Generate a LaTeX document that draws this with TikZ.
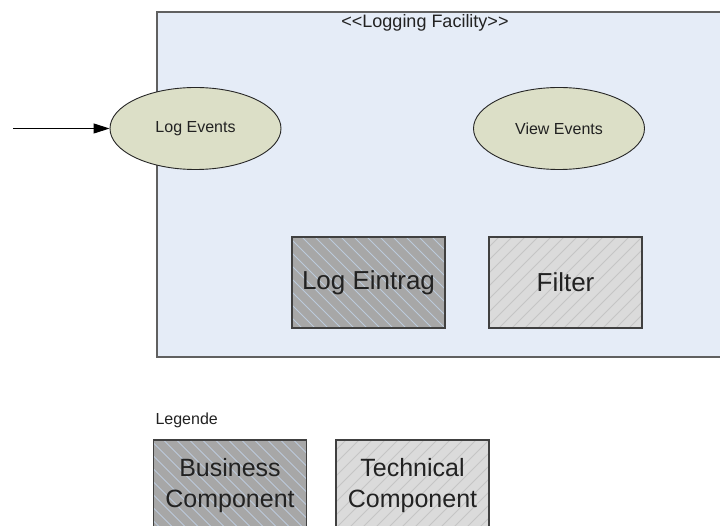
\documentclass[tikz,border=0pt]{standalone}
\usepackage{fontspec}
\setmainfont{Liberation Sans}
\usetikzlibrary{arrows.meta,shapes.geometric}

\definecolor{facilityfill}{HTML}{E5ECF7}
\definecolor{facilityline}{HTML}{606060}
\definecolor{usecasefill}{HTML}{DCDFC7}
\definecolor{bizfill}{HTML}{A7A7A7}
\definecolor{bizstripe}{HTML}{BCCADB}
\definecolor{techfill}{HTML}{DBDBDB}
\definecolor{techstripe}{HTML}{C5C5C5}
\definecolor{textdark}{HTML}{222222}

\tikzset{
  x=1pt, y=-1pt,
  every node/.style={text=textdark},
  usecase/.style={ellipse, draw=black!85, line width=0.9pt, fill=usecasefill,
    minimum width=171pt, minimum height=82pt, inner sep=0pt, font=\fontsize{16}{19}\selectfont},
  compbox/.style={draw=black!75, line width=1.4pt, minimum width=153pt,
    minimum height=91pt, inner sep=0pt, align=center},
  bizbox/.style={compbox, fill=bizfill,
    path picture={
      \foreach \i in {-120,-107,...,170}
        \draw[bizstripe, line width=0.9pt]
          ([xshift=\i pt]path picture bounding box.north west) -- ++(130pt,-130pt);
    }},
  techbox/.style={compbox, fill=techfill,
    path picture={
      \foreach \i in {-120,-107,...,170}
        \draw[techstripe, line width=0.9pt]
          ([xshift=\i pt]path picture bounding box.south west) -- ++(130pt,130pt);
    }},
  flow/.style={-{Triangle[length=16pt,width=10pt]}, line width=1pt, black},
}

\begin{document}
\begin{tikzpicture}
  \clip (0,0) rectangle (720,526);
  \fill[white] (0,0) rectangle (720,526);

  % logging facility package
  \draw[facilityline, line width=2pt, fill=facilityfill] (157,12.5) rectangle (730,357.5);
  \node[font=\fontsize{18}{21}\selectfont] (title) at (425,23)
    {<\kern0pt<Logging Facility>\kern0pt>};

  % use cases
  \node[usecase] (log) at (195.5,128.5) {Log Events};
  \node[usecase] (view) at (559,128.5) {View Events};
  \coordinate (src) at (13,128.5);
  \draw[flow] (src) -- (log.west);

  % components
  \node[bizbox, font=\fontsize{26}{30}\selectfont] (entry) at (368.5,282.5) {Log Eintrag};
  \node[techbox, font=\fontsize{26}{30}\selectfont] (filter) at (565.5,282.5) {Filter};

  % legend
  \node[anchor=west, font=\fontsize{16}{19}\selectfont] (legend) at (152,420) {Legende};
  \node[bizbox, font=\fontsize{25}{31}\selectfont] (biz) at (230,485.5) {Business\\Component};
  \node[techbox, font=\fontsize{25}{31}\selectfont] (tech) at (412.5,485.5) {Technical\\Component};
\end{tikzpicture}
\end{document}
